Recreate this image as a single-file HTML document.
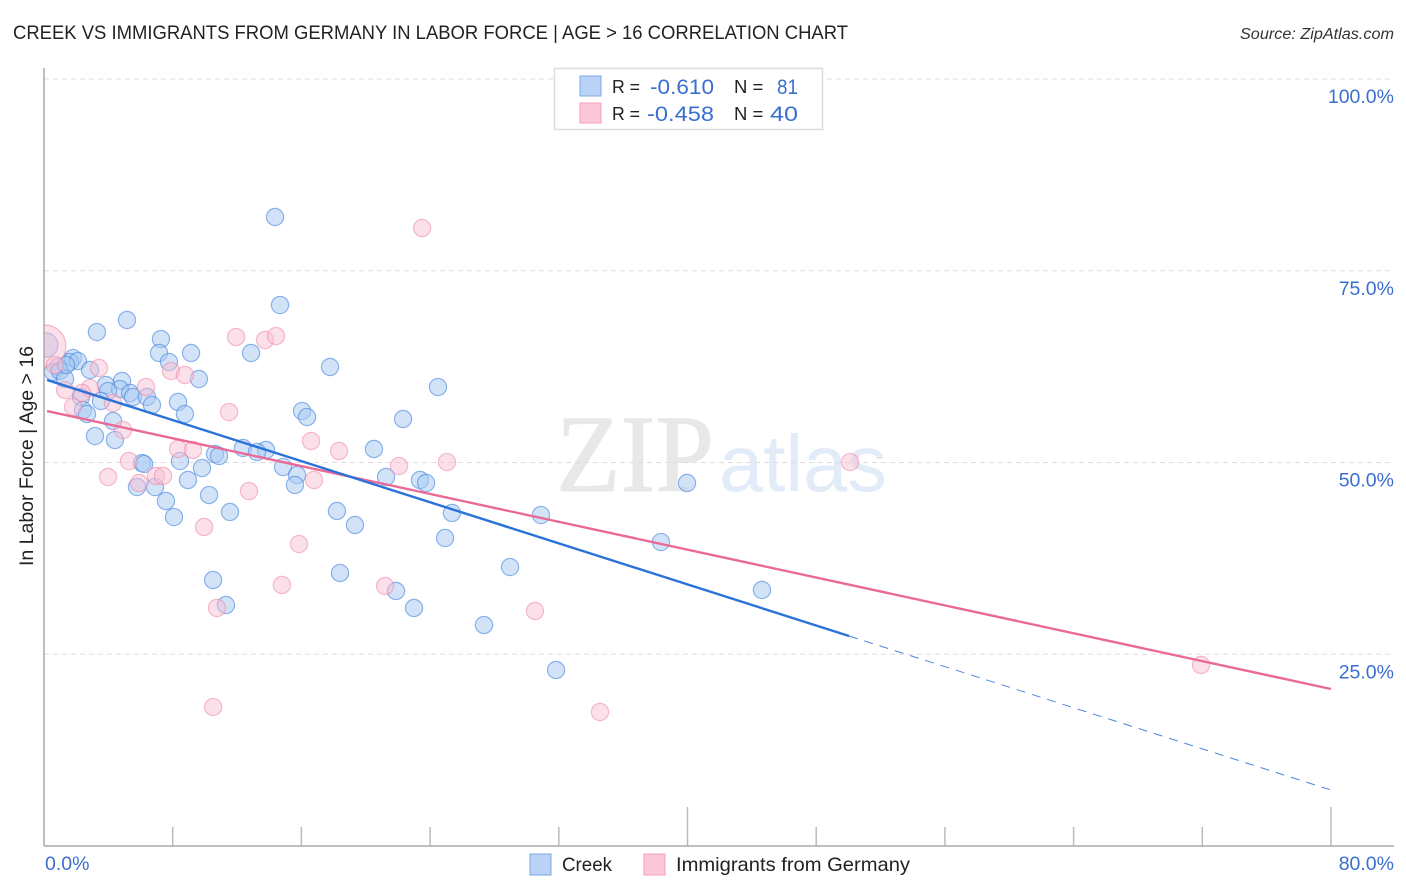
<!DOCTYPE html>
<html lang="en">
<head>
<meta charset="utf-8">
<title>Creek vs Immigrants from Germany in Labor Force | Age > 16 Correlation Chart</title>
<style>
html,body{margin:0;padding:0;background:#fff;}
svg{display:block;}
text{font-family:"Liberation Sans",sans-serif;}
</style>
</head>
<body>
<svg id="chart" xmlns="http://www.w3.org/2000/svg" width="1406" height="892" viewBox="0 0 1406 892">
  <rect x="0" y="0" width="1406" height="892" fill="#ffffff"/>
  <text x="13" y="39" font-size="19" fill="#222" textLength="835" lengthAdjust="spacingAndGlyphs">CREEK VS IMMIGRANTS FROM GERMANY IN LABOR FORCE | AGE &gt; 16 CORRELATION CHART</text>
  <text x="1394" y="39" font-size="15.5" font-style="italic" fill="#333" text-anchor="end" textLength="154" lengthAdjust="spacingAndGlyphs">Source: ZipAtlas.com</text>

  <g>
    <text x="556" y="491" font-size="110" fill="#e8e8e8" stroke="#e8e8e8" stroke-width="1" textLength="158" lengthAdjust="spacingAndGlyphs" style="font-family:'Liberation Serif',serif">ZIP</text>
    <text x="719" y="491" font-size="80" fill="#e2ebf8" textLength="168" lengthAdjust="spacingAndGlyphs">atlas</text>
  </g>

  <g id="grid"></g>
  <g id="x-ticks"></g>
  <g id="y-labels"></g>
  <g id="x-labels"></g>

  <g id="points-creek"></g>
  <g id="points-germany"></g>
  <rect x="0" y="60" width="44" height="786" fill="#ffffff"/>
  <g id="trends"></g>
  <g id="axes">
    <line x1="44" y1="68" x2="44" y2="846" stroke="#aaaaaa" stroke-width="1.5"/>
    <line x1="44" y1="846" x2="1394" y2="846" stroke="#aaaaaa" stroke-width="1.5"/>
  </g>
  <text transform="translate(33,456) rotate(-90)" font-size="19" fill="#222" text-anchor="middle" textLength="220" lengthAdjust="spacingAndGlyphs">In Labor Force | Age &gt; 16</text>

  <g>
    <rect x="554.5" y="68.5" width="268" height="61" fill="#ffffff" stroke="#dddddd" stroke-width="1.5"/>
    <rect x="580" y="76" width="21" height="20" fill="#b9d3f6" stroke="#7ba7e3" stroke-width="1"/>
    <rect x="580" y="103" width="21" height="20" fill="#fcc8d8" stroke="#f2a0ba" stroke-width="1"/>
    <text x="612" y="93" font-size="18.5" fill="#222" textLength="28" lengthAdjust="spacingAndGlyphs">R =</text>
    <text x="714" y="94" font-size="21.5" fill="#3a6fd0" text-anchor="end" textLength="64" lengthAdjust="spacingAndGlyphs">-0.610</text>
    <text x="734" y="93" font-size="18.5" fill="#222">N =</text>
    <text x="798" y="94" font-size="21.5" fill="#3a6fd0" text-anchor="end" textLength="21" lengthAdjust="spacingAndGlyphs">81</text>
    <text x="612" y="120" font-size="18.5" fill="#222" textLength="28" lengthAdjust="spacingAndGlyphs">R =</text>
    <text x="714" y="121" font-size="21.5" fill="#3a6fd0" text-anchor="end" textLength="67" lengthAdjust="spacingAndGlyphs">-0.458</text>
    <text x="734" y="120" font-size="18.5" fill="#222">N =</text>
    <text x="798" y="121" font-size="21.5" fill="#3a6fd0" text-anchor="end" textLength="28" lengthAdjust="spacingAndGlyphs">40</text>
  </g>

  <g>
    <rect x="530" y="854" width="21" height="21" fill="#b9d3f6" stroke="#7ba7e3" stroke-width="1"/>
    <text x="562" y="871" font-size="19.5" fill="#222" textLength="50" lengthAdjust="spacingAndGlyphs">Creek</text>
    <rect x="644" y="854" width="21" height="21" fill="#fcc8d8" stroke="#f2a0ba" stroke-width="1"/>
    <text x="676" y="871" font-size="19.5" fill="#222" textLength="234" lengthAdjust="spacingAndGlyphs">Immigrants from Germany</text>
  </g>
</svg>
<script>
const creekX = [0.12,14.36,14.67,5.16,3.29,7.27,7.15,9.14,12.87,7.77,17.78,1.80,1.62,2.11,0.87,0.56,0.99,1.31,2.86,4.85,3.85,9.63,24.49,4.72,3.98,5.35,5.53,6.40,3.54,2.30,6.71,8.33,2.42,2.67,8.76,16.04,16.35,22.32,4.29,3.17,4.41,12.37,13.80,13.24,20.51,10.63,10.88,6.09,6.22,8.45,14.86,9.82,15.73,21.26,23.37,23.75,39.97,8.95,15.60,5.78,6.90,10.26,7.58,8.08,11.56,18.21,25.36,30.89,19.33,24.93,38.35,28.97,18.40,10.51,44.63,21.88,11.31,23.00,27.35,31.83,1.37];
const creekY = [65.32,82.01,70.53,68.58,67.01,66.10,64.28,64.28,64.28,63.10,62.45,63.62,63.10,63.23,62.45,61.80,61.93,60.89,62.06,60.63,60.10,60.89,59.84,59.58,59.32,59.06,58.54,58.54,58.02,58.54,57.50,57.89,56.84,56.32,56.32,56.71,55.93,55.67,55.41,53.45,52.93,51.89,51.63,51.37,51.76,51.11,50.85,49.93,49.80,50.19,49.41,49.28,48.37,48.11,47.72,47.33,47.33,47.72,47.07,46.80,46.80,45.76,44.98,42.89,43.55,43.68,43.42,43.15,41.85,40.16,39.63,36.37,35.59,34.68,33.38,33.25,31.42,31.03,28.81,22.95,62.71];
const germanyX = [0.06,3.42,0.68,7.89,8.76,11.94,13.74,14.42,6.34,2.86,2.36,1.31,4.29,1.80,11.50,4.91,8.33,9.26,5.28,6.96,7.40,3.98,5.91,12.74,9.95,23.50,16.60,18.34,22.07,25.05,50.10,16.78,15.85,14.79,21.20,10.75,30.52,10.51,34.56,71.92];
const germanyY = [65.19,62.32,62.71,61.93,61.41,66.36,65.97,66.49,59.84,59.71,59.06,59.45,57.76,57.24,56.58,54.24,51.76,51.63,50.19,48.24,48.24,48.11,47.33,46.28,41.59,80.57,52.80,51.50,49.54,50.06,50.06,47.72,39.37,34.03,33.90,31.03,30.64,18.12,17.47,23.60];
const creekTrendX = [0.19,50.04];
const creekTrendY = [60.76,27.38];
const creekDashX = [50.04,80];
const creekDashY = [27.38,7.30];
const germanyTrendX = [0.19,80];
const germanyTrendY = [56.71,20.47];
const xTickValues = [0,8,16,24,32,40,48,56,64,72,80];
const xMajorTicks = [40,80];
const xLabelValues = [0,80];
const yGridValues = [100,75,50,25];

const NS = 'http://www.w3.org/2000/svg';
function xScale(v){ return 44 + v * (1331 - 44) / 80; }
function yScale(v){ return 846 - v * (846 - 79) / 100; }
function make(tag, attrs, parent){
  const el = document.createElementNS(NS, tag);
  for (const k in attrs) el.setAttribute(k, attrs[k]);
  parent.appendChild(el);
  return el;
}

const gridG = document.getElementById('grid');
yGridValues.forEach(function(v){
  const g = make('line', {x1:44, x2:1394, y1:yScale(v), y2:yScale(v), stroke:'#dddddd', 'stroke-width':1, 'stroke-dasharray':'5 4'}, gridG);
  
  
});

const tickG = document.getElementById('x-ticks');
xTickValues.forEach(function(v){
  if (v === 0) return;
  const len = xMajorTicks.indexOf(v) >= 0 ? 39 : 19;
  const t = make('line', {x1:xScale(v), x2:xScale(v), y1:846 - len, y2:846, stroke:'#bbbbbb', 'stroke-width':1.5}, tickG);
  
  
});

const yLabG = document.getElementById('y-labels');
yGridValues.forEach(function(v){
  const t = make('text', {x:1394, y:yScale(v) + 24, 'font-size':19.5, fill:'#3a6fd0', 'text-anchor':'end'}, yLabG);
  
  
  t.textContent = v.toFixed(1) + '%';
});

const xLabG = document.getElementById('x-labels');
xLabelValues.forEach(function(v){
  const first = v === 0;
  const t = make('text', {x:first ? 45 : 1394, y:870, 'font-size':19.5, fill:'#3a6fd0', 'text-anchor':first ? 'start' : 'end'}, xLabG);
  
  
  t.textContent = v.toFixed(1) + '%';
});

const creekG = document.getElementById('points-creek');
creekX.forEach(function(x, i){
  const c = make('circle', {cx:xScale(x) , cy:yScale(creekY[i]), r:i === 0 ? 12 : 8.6, fill:'#a9c9f2', 'fill-opacity':0.52, stroke:'#3b7ddd', 'stroke-opacity':0.55, 'stroke-width':1.2}, creekG);
  
  
});

const germanyG = document.getElementById('points-germany');
germanyX.forEach(function(x, i){
  const c = make('circle', {cx:xScale(x), cy:yScale(germanyY[i]), r:i === 0 ? 21 : 8.6, fill:'#f9bfd2', 'fill-opacity':0.48, stroke:'#ee85a8', 'stroke-opacity':0.55, 'stroke-width':1.2}, germanyG);
  
  
});

const trendG = document.getElementById('trends');
const pinkLine = make('line', {x1:xScale(germanyTrendX[0]), y1:yScale(germanyTrendY[0]), x2:xScale(germanyTrendX[1]), y2:yScale(germanyTrendY[1]), stroke:'#ea6a96', 'stroke-width':2.4}, trendG);


const blueLine = make('line', {x1:xScale(creekTrendX[0]), y1:yScale(creekTrendY[0]), x2:xScale(creekTrendX[1]), y2:yScale(creekTrendY[1]), stroke:'#2a72d8', 'stroke-width':2.4}, trendG);


const blueDash = make('line', {x1:xScale(creekDashX[0]), y1:yScale(creekDashY[0]), x2:xScale(creekDashX[1]), y2:yScale(creekDashY[1]), stroke:'#4d86dc', 'stroke-width':1, 'stroke-dasharray':'9 7'}, trendG);


</script>
</body>
</html>
